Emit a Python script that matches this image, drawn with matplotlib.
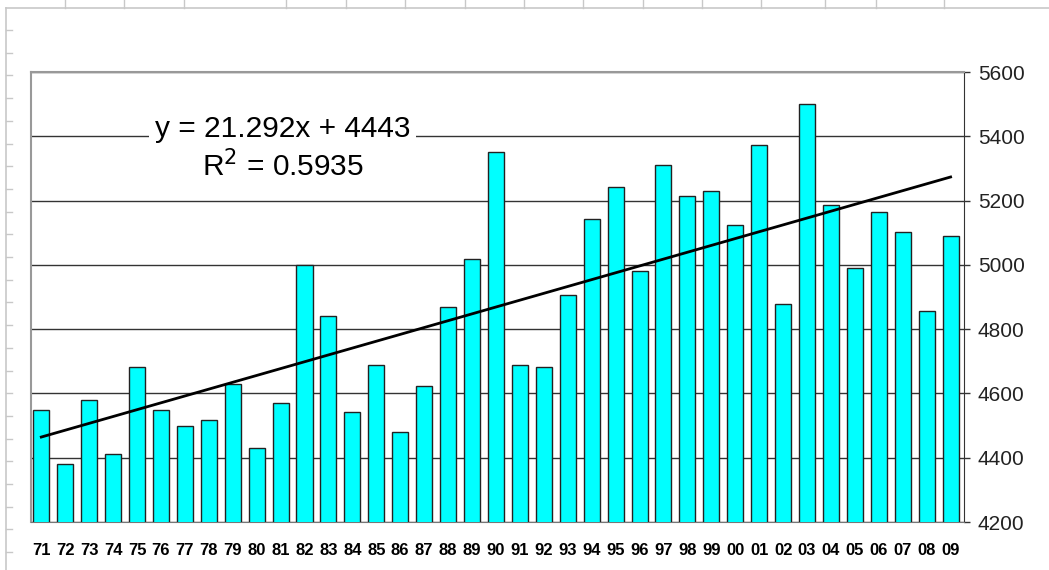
import numpy as np
import matplotlib
matplotlib.use('Agg')
import matplotlib.pyplot as plt
from matplotlib.lines import Line2D

# datos
years = ['71', '72', '73', '74', '75', '76', '77', '78', '79', '80',
         '81', '82', '83', '84', '85', '86', '87', '88', '89', '90',
         '91', '92', '93', '94', '95', '96', '97', '98', '99', '00',
         '01', '02', '03', '04', '05', '06', '07', '08', '09']
values = [4547, 4381, 4579, 4413, 4683, 4547, 4499, 4516, 4629, 4431,
          4571, 5000, 4840, 4542, 4687, 4480, 4624, 4868, 5018, 5352,
          4687, 4683, 4906, 5144, 5243, 4981, 5310, 5214, 5230, 5124,
          5373, 4877, 5499, 5186, 4989, 5165, 5102, 4855, 5089]
slope = 21.292
intercept = 4443
r2 = 0.5935
yticks = [4200, 4400, 4600, 4800, 5000, 5200, 5400, 5600]

plt.rcParams['font.family'] = ['Liberation Sans', 'DejaVu Sans']

W, H = 1049, 570
fig = plt.figure(figsize=(W/100, H/100), dpi=100)

# restos de la captura de Excel (regla izquierda y borde superior)
fig.add_artist(Line2D([6/W, 6/W], [0, 1-8/H], color='#c8c8c8', lw=1.2))
fig.add_artist(Line2D([6/W, 1], [1-8/H, 1-8/H], color='#c8c8c8', lw=1.2))
for yy in np.arange(30, 570, 22.7):
    fig.add_artist(Line2D([6/W, 12/W], [1-yy/H, 1-yy/H], color='#c8c8c8', lw=1))
for xx in [65, 124, 184, 286, 346, 405, 465, 524, 583, 643, 702, 761, 825, 876, 944]:
    fig.add_artist(Line2D([xx/W, xx/W], [1-8/H, 1], color='#c8c8c8', lw=1))

ax = fig.add_axes([31/W, 48/H, (964-31)/W, (522-72)/H])
x = np.arange(len(years))
ax.bar(x, values, width=0.67, color='#00FFFF', edgecolor='#222222', linewidth=1, zorder=3)

xt = np.array([x[0], x[-1]])
ax.plot(xt, intercept + slope*(xt+1), color='black', lw=2, zorder=4)

ax.set_ylim(4200, 5600)
ax.set_xlim(-0.43, 38.56)
ax.set_yticks(yticks)
ax.yaxis.tick_right()
ax.yaxis.grid(True, color='#333333', lw=1, zorder=0)
ax.tick_params(axis='y', direction='out', length=4, width=1, pad=6,
               labelsize=15, labelcolor='#222222', color='#333333')
ax.set_xticks(x)
ax.set_xticklabels(years, fontsize=12, fontweight='bold',
                   family=['Liberation Sans Narrow', 'Liberation Sans'])
ax.tick_params(axis='x', length=0, pad=15)

for s in ['top', 'left']:
    ax.spines[s].set_color('#999999')
    ax.spines[s].set_linewidth(1.5)
ax.spines['bottom'].set_color('#777777')
ax.spines['right'].set_color('#333333')

ax.text(0.27, 0.873, 'y = 21.292x + 4443', transform=ax.transAxes, fontsize=21.5,
        ha='center', va='center', zorder=5,
        bbox=dict(fc='white', ec='none', pad=4))
ax.text(0.27, 0.79, 'R$^2$ = 0.5935', transform=ax.transAxes, fontsize=21.5,
        ha='center', va='center', zorder=5)

fig.savefig('out.png', dpi=100)
